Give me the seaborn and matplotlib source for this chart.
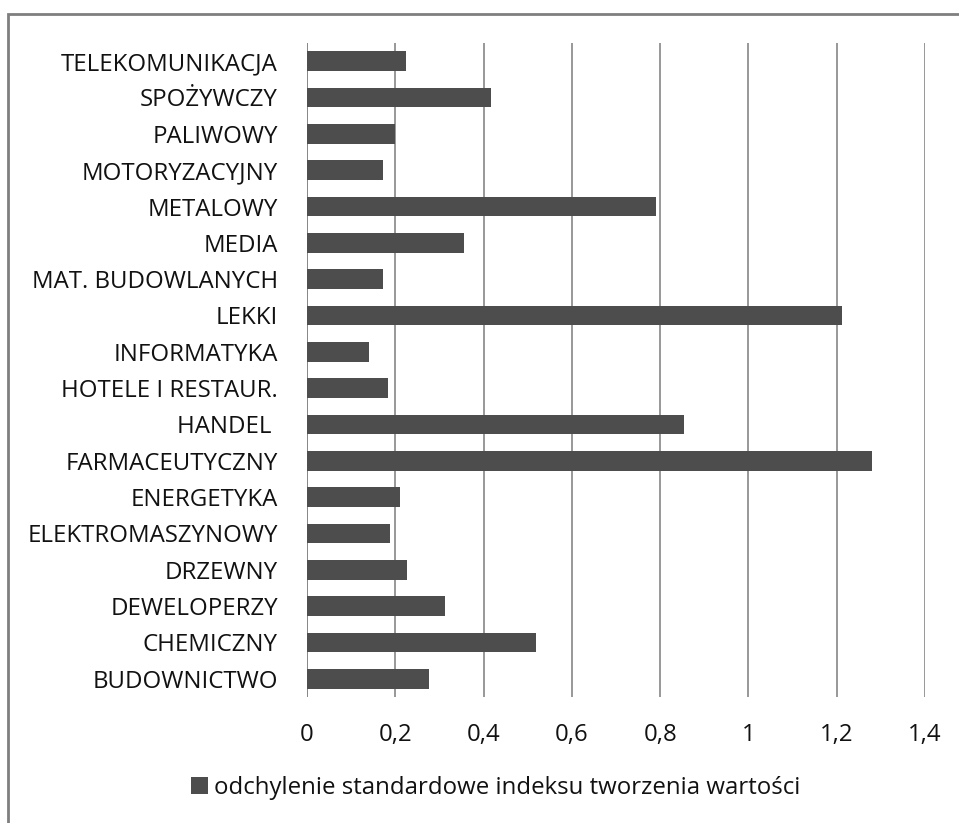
import matplotlib
matplotlib.use("Agg")
import matplotlib.pyplot as plt
import seaborn as sns
import pandas as pd
from matplotlib.ticker import FuncFormatter, MultipleLocator
from matplotlib.patches import Rectangle, Patch

categories = ["TELEKOMUNIKACJA", "SPOŻYWCZY", "PALIWOWY", "MOTORYZACYJNY", "METALOWY",
              "MEDIA", "MAT. BUDOWLANYCH", "LEKKI", "INFORMATYKA", "HOTELE I RESTAUR.",
              "HANDEL ", "FARMACEUTYCZNY", "ENERGETYKA", "ELEKTROMASZYNOWY", "DRZEWNY",
              "DEWELOPERZY", "CHEMICZNY", "BUDOWNICTWO"]
values = [0.225, 0.416, 0.199, 0.173, 0.791,
          0.355, 0.173, 1.213, 0.140, 0.184,
          0.855, 1.280, 0.210, 0.187, 0.227,
          0.312, 0.518, 0.277]
series_name = "odchylenie standardowe indeksu tworzenia wartości"

df = pd.DataFrame({"sektor": categories, "wartosc": values})

sns.set_theme(style="white")
plt.rcParams['font.family'] = ['Open Sans', 'DejaVu Sans']

W, H = 959, 823
fig = plt.figure(figsize=(W / 100, H / 100), dpi=100)
ax = fig.add_axes([307 / W, 1 - 697 / H, (925 - 307) / W, (697 - 43) / H])

bar_color = "#4d4d4d"
sns.barplot(data=df, x="wartosc", y="sektor", order=categories, orient="h",
            color=bar_color, width=0.55, saturation=1, ax=ax, edgecolor="none")

ax.set_xlim(0, 1.4)
ax.set_ylim(len(categories) - 0.5, -0.5)
ax.xaxis.set_major_locator(MultipleLocator(0.2))
ax.xaxis.set_major_formatter(FuncFormatter(
    lambda v, p: ("%g" % round(v, 1)).replace(".", ",")))
ax.grid(axis="x", color="#868686", linewidth=1.2)
ax.grid(axis="y", visible=False)
ax.set_axisbelow(True)
for s in ax.spines.values():
    s.set_visible(False)
ax.axvline(0, color="#868686", linewidth=1.2, zorder=0.5)
ax.set_xlabel("")
ax.set_ylabel("")
ax.tick_params(axis="both", length=0, labelsize=17.3, colors="#111111")
ax.tick_params(axis="y", pad=21)
ax.tick_params(axis="x", pad=19)

# outer chart frame
fig.add_artist(Rectangle((8 / W, -0.1), 1.2, 1 - 14 / H + 0.1, transform=fig.transFigure,
                         fill=False, edgecolor="#7f7f7f", linewidth=2))

handle = Patch(facecolor=bar_color, edgecolor="none")
fig.legend([handle], [series_name], loc="center", bbox_to_anchor=(496 / W, 1 - 788 / H),
           frameon=False, fontsize=17.3, handlelength=0.7, handleheight=0.7,
           handletextpad=0.25, labelcolor="#111111")

fig.savefig("out.png", dpi=100)
